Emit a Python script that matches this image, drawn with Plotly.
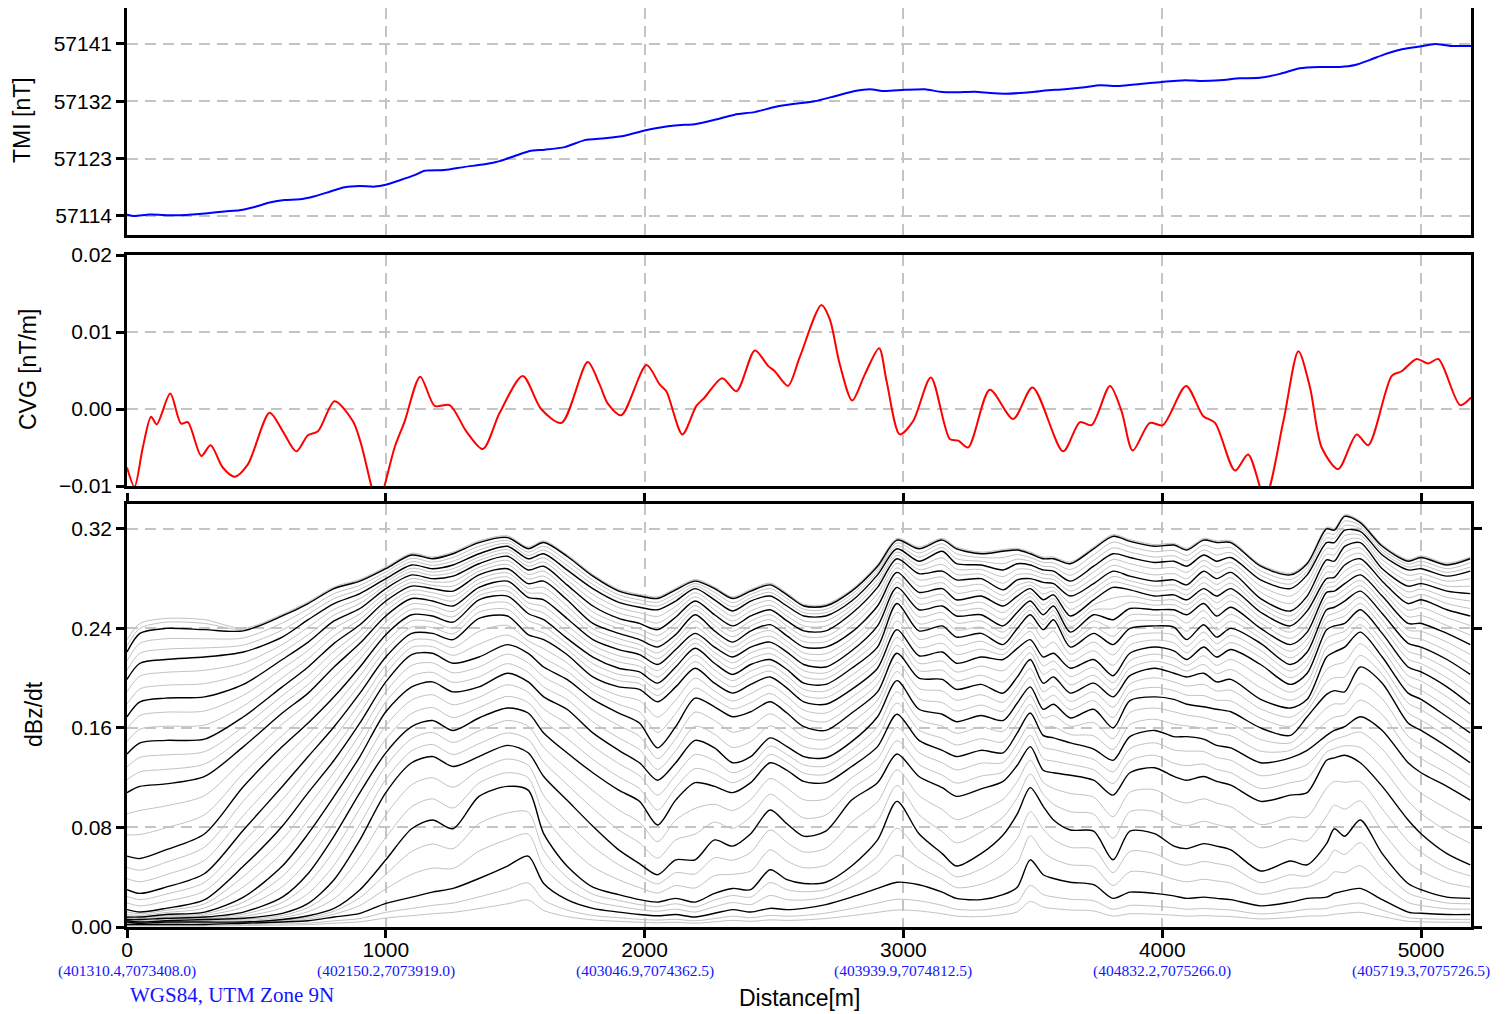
import plotly.graph_objects as go

# ---------------- TMI (top panel) ----------------
tmi_dist = [0, 29, 87, 184, 280, 377, 435, 493, 551, 609, 667, 725, 783, 841, 899, 957, 1000,
            1054, 1111, 1150, 1227, 1305, 1382, 1440, 1498, 1556, 1614, 1691, 1768, 1846, 1923,
            2000, 2078, 2155, 2194, 2271, 2348, 2425, 2503, 2580, 2657, 2735, 2812, 2870, 2928,
            3005, 3083, 3141, 3199, 3276, 3334, 3392, 3450, 3508, 3547, 3624, 3701, 3759, 3836,
            3914, 3991, 4087, 4145, 4223, 4300, 4377, 4455, 4532, 4609, 4687, 4745, 4803, 4861,
            4919, 4996, 5054, 5112, 5193]
tmi_val = [57114.2, 57114.0, 57114.2, 57114.1, 57114.3, 57114.7, 57114.9, 57115.4, 57116.1,
           57116.5, 57116.6, 57117.1, 57117.8, 57118.5, 57118.7, 57118.6, 57118.9, 57119.6,
           57120.4, 57121.1, 57121.2, 57121.7, 57122.1, 57122.6, 57123.4, 57124.2, 57124.4,
           57124.8, 57125.9, 57126.2, 57126.6, 57127.4, 57128.0, 57128.3, 57128.4, 57129.1,
           57129.9, 57130.3, 57131.1, 57131.6, 57132.0, 57132.8, 57133.6, 57133.9, 57133.6,
           57133.8, 57133.9, 57133.5, 57133.4, 57133.5, 57133.3, 57133.2, 57133.3, 57133.5,
           57133.7, 57133.9, 57134.2, 57134.5, 57134.4, 57134.7, 57135.0, 57135.3, 57135.2,
           57135.3, 57135.6, 57135.7, 57136.3, 57137.2, 57137.4, 57137.4, 57137.7, 57138.5,
           57139.4, 57140.1, 57140.6, 57141.0, 57140.7, 57140.7]

# ---------------- CVG (middle panel) ----------------
cvg_dist = [0, 29, 61, 93, 115, 167, 209, 235, 287, 323, 370, 416, 467, 551, 602, 654, 699, 738,
            802, 873, 905, 944, 970, 995, 1034, 1073, 1133, 1189, 1247, 1311, 1375, 1440, 1529,
            1600, 1679, 1780, 1826, 1858, 1910, 2007, 2058, 2084, 2146, 2200, 2232, 2300, 2355,
            2426, 2477, 2503, 2554, 2599, 2683, 2715, 2754, 2802, 2851, 2906, 2935, 2986, 3037,
            3106, 3179, 3212, 3250, 3334, 3424, 3499, 3617, 3682, 3727, 3798, 3843, 3886, 3952,
            4002, 4092, 4158, 4204, 4281, 4332, 4397, 4468, 4526, 4571, 4616, 4680, 4751, 4796,
            4887, 4925, 4983, 5028, 5067, 5151, 5193]
cvg_val = [-0.0076, -0.0101, -0.0050, -0.0010, -0.0020, 0.0020, -0.0019, -0.0017, -0.0061,
           -0.0047, -0.0076, -0.0088, -0.0072, -0.0005, -0.0029, -0.0055, -0.0034, -0.0029,
           0.0010, -0.0016, -0.0046, -0.0100, -0.0130, -0.0100, -0.0050, -0.0016, 0.0042,
           0.0004, 0.0005, -0.0029, -0.0052, -0.0005, 0.0043, 0.0000, -0.0018, 0.0061, 0.0032,
           0.0007, -0.0008, 0.0057, 0.0032, 0.0023, -0.0033, 0.0004, 0.0015, 0.0040, 0.0023,
           0.0076, 0.0056, 0.0049, 0.0030, 0.0067, 0.0135, 0.0117, 0.0058, 0.0011, 0.0045,
           0.0079, 0.0036, -0.0033, -0.0016, 0.0041, -0.0039, -0.0041, -0.0050, 0.0025,
           -0.0013, 0.0028, -0.0055, -0.0017, -0.0021, 0.0030, -0.0003, -0.0054, -0.0018,
           -0.0021, 0.0030, -0.0009, -0.0018, -0.0080, -0.0059, -0.0115, -0.0016, 0.0075,
           0.0028, -0.0050, -0.0078, -0.0033, -0.0047, 0.0043, 0.0049, 0.0065, 0.0059, 0.0065,
           0.0005, 0.0015]

# ---------------- dBz/dt (bottom panel) ----------------
dbdt_dist = [0, 50, 150, 300, 450, 600, 700, 800, 900,
             1000, 1100, 1180, 1260, 1360, 1470, 1550, 1610, 1700, 1800, 1900, 1980,
             2050, 2120, 2195, 2270, 2340, 2410, 2485, 2550, 2615, 2700, 2800, 2900, 2975,
             3060, 3150, 3205, 3300, 3385, 3440, 3490, 3540, 3580, 3645, 3735, 3810, 3875, 3970, 4045,
             4095, 4160, 4210, 4265, 4380, 4495, 4560, 4635, 4665,
             4705, 4765, 4850, 4950, 5000, 5100, 5190]

# highlighted (black) channels, top to bottom
ch03 = [0.221, 0.236, 0.240, 0.239, 0.238, 0.250, 0.260, 0.272, 0.278,
        0.288, 0.299, 0.296, 0.300, 0.309, 0.313, 0.304, 0.309, 0.298, 0.282, 0.270, 0.266,
        0.264, 0.271, 0.278, 0.272, 0.264, 0.270, 0.275, 0.267, 0.258, 0.258, 0.270, 0.290, 0.311,
        0.304, 0.311, 0.304, 0.300, 0.302, 0.303, 0.300, 0.296, 0.296, 0.292, 0.304, 0.314, 0.310, 0.306, 0.307,
        0.303, 0.311, 0.309, 0.309, 0.290, 0.283, 0.292, 0.320, 0.319,
        0.330, 0.325, 0.306, 0.294, 0.297, 0.291, 0.296]
ch06 = [0.199, 0.212, 0.215, 0.217, 0.221, 0.233, 0.247, 0.260, 0.268,
        0.280, 0.291, 0.288, 0.291, 0.300, 0.306, 0.296, 0.300, 0.287, 0.272, 0.261, 0.257,
        0.255, 0.262, 0.272, 0.263, 0.254, 0.262, 0.266, 0.258, 0.250, 0.250, 0.262, 0.283, 0.304,
        0.294, 0.302, 0.292, 0.291, 0.287, 0.292, 0.291, 0.287, 0.286, 0.278, 0.290, 0.300, 0.297, 0.293, 0.294,
        0.290, 0.299, 0.294, 0.297, 0.279, 0.272, 0.283, 0.309, 0.309,
        0.319, 0.318, 0.299, 0.287, 0.288, 0.282, 0.286]
ch09 = [0.169, 0.181, 0.184, 0.185, 0.195, 0.215, 0.229, 0.246, 0.256,
        0.272, 0.283, 0.280, 0.282, 0.292, 0.298, 0.287, 0.290, 0.275, 0.258, 0.248, 0.244,
        0.239, 0.249, 0.262, 0.251, 0.242, 0.250, 0.255, 0.246, 0.238, 0.238, 0.252, 0.273, 0.296,
        0.284, 0.286, 0.279, 0.280, 0.271, 0.279, 0.280, 0.277, 0.276, 0.266, 0.276, 0.286, 0.282, 0.278, 0.279,
        0.275, 0.286, 0.280, 0.285, 0.264, 0.254, 0.266, 0.295, 0.294,
        0.306, 0.309, 0.288, 0.274, 0.276, 0.270, 0.268]
ch12 = [0.139, 0.148, 0.150, 0.151, 0.169, 0.193, 0.209, 0.228, 0.243,
        0.262, 0.274, 0.272, 0.270, 0.283, 0.288, 0.276, 0.278, 0.263, 0.244, 0.236, 0.231,
        0.225, 0.235, 0.251, 0.238, 0.229, 0.238, 0.243, 0.234, 0.225, 0.225, 0.237, 0.258, 0.285,
        0.269, 0.272, 0.263, 0.266, 0.258, 0.266, 0.272, 0.263, 0.267, 0.250, 0.263, 0.273, 0.271, 0.266, 0.267,
        0.263, 0.272, 0.266, 0.272, 0.253, 0.242, 0.254, 0.280, 0.281,
        0.291, 0.296, 0.278, 0.260, 0.263, 0.255, 0.250]
ch15 = [0.108, 0.113, 0.115, 0.121, 0.145, 0.172, 0.188, 0.209, 0.228,
        0.250, 0.264, 0.262, 0.258, 0.273, 0.278, 0.265, 0.263, 0.248, 0.231, 0.223, 0.219,
        0.211, 0.223, 0.236, 0.225, 0.217, 0.225, 0.229, 0.221, 0.211, 0.209, 0.222, 0.242, 0.273,
        0.255, 0.258, 0.250, 0.251, 0.242, 0.253, 0.262, 0.251, 0.258, 0.237, 0.251, 0.247, 0.256, 0.255, 0.255,
        0.251, 0.260, 0.250, 0.257, 0.240, 0.227, 0.237, 0.269, 0.270,
        0.276, 0.283, 0.266, 0.244, 0.244, 0.236, 0.227]
ch18 = [0.057, 0.055, 0.062, 0.075, 0.113, 0.145, 0.164, 0.185, 0.209,
        0.235, 0.251, 0.250, 0.245, 0.263, 0.266, 0.252, 0.247, 0.232, 0.217, 0.208, 0.205,
        0.196, 0.209, 0.224, 0.212, 0.203, 0.211, 0.215, 0.207, 0.196, 0.195, 0.208, 0.225, 0.260,
        0.238, 0.242, 0.233, 0.236, 0.227, 0.240, 0.251, 0.239, 0.247, 0.225, 0.236, 0.227, 0.240, 0.242, 0.241,
        0.231, 0.243, 0.233, 0.240, 0.228, 0.211, 0.221, 0.255, 0.257,
        0.262, 0.270, 0.252, 0.228, 0.225, 0.215, 0.203]
ch21 = [0.030, 0.027, 0.032, 0.043, 0.078, 0.113, 0.137, 0.161, 0.188,
        0.217, 0.236, 0.236, 0.231, 0.248, 0.250, 0.235, 0.231, 0.219, 0.201, 0.193, 0.191,
        0.181, 0.193, 0.208, 0.196, 0.188, 0.195, 0.201, 0.192, 0.181, 0.179, 0.191, 0.208, 0.239,
        0.218, 0.221, 0.212, 0.217, 0.215, 0.224, 0.231, 0.217, 0.220, 0.208, 0.215, 0.202, 0.220, 0.225, 0.222,
        0.215, 0.225, 0.217, 0.223, 0.211, 0.195, 0.204, 0.239, 0.242,
        0.244, 0.255, 0.236, 0.209, 0.205, 0.193, 0.179]
ch24 = [0.014, 0.012, 0.015, 0.022, 0.049, 0.081, 0.108, 0.134, 0.164,
        0.197, 0.219, 0.220, 0.212, 0.217, 0.227, 0.220, 0.209, 0.199, 0.183, 0.172, 0.164,
        0.144, 0.161, 0.184, 0.177, 0.169, 0.173, 0.181, 0.172, 0.161, 0.158, 0.172, 0.189, 0.220,
        0.200, 0.199, 0.191, 0.195, 0.188, 0.201, 0.215, 0.196, 0.201, 0.188, 0.196, 0.185, 0.202, 0.208, 0.204,
        0.201, 0.204, 0.197, 0.199, 0.183, 0.176, 0.183, 0.217, 0.221,
        0.225, 0.237, 0.217, 0.188, 0.183, 0.169, 0.156]
ch27 = [0.008, 0.008, 0.010, 0.012, 0.024, 0.049, 0.075, 0.105, 0.137,
        0.173, 0.193, 0.197, 0.189, 0.193, 0.204, 0.197, 0.185, 0.175, 0.156, 0.142, 0.132,
        0.118, 0.132, 0.150, 0.144, 0.132, 0.137, 0.152, 0.145, 0.137, 0.136, 0.149, 0.169, 0.198,
        0.175, 0.171, 0.165, 0.170, 0.166, 0.180, 0.193, 0.175, 0.179, 0.168, 0.175, 0.160, 0.182, 0.185, 0.183,
        0.179, 0.177, 0.175, 0.173, 0.160, 0.154, 0.169, 0.187, 0.190,
        0.189, 0.209, 0.196, 0.164, 0.158, 0.145, 0.132]
ch30 = [0.006, 0.006, 0.007, 0.008, 0.012, 0.024, 0.043, 0.073, 0.108,
        0.140, 0.161, 0.166, 0.158, 0.168, 0.176, 0.172, 0.156, 0.140, 0.124, 0.110, 0.101,
        0.082, 0.102, 0.116, 0.113, 0.108, 0.116, 0.132, 0.126, 0.117, 0.116, 0.129, 0.145, 0.171,
        0.150, 0.142, 0.137, 0.142, 0.140, 0.156, 0.172, 0.154, 0.152, 0.148, 0.143, 0.134, 0.153, 0.158, 0.153,
        0.153, 0.151, 0.146, 0.144, 0.132, 0.136, 0.142, 0.154, 0.158,
        0.161, 0.169, 0.158, 0.132, 0.124, 0.113, 0.102]
ch33 = [0.005, 0.004, 0.005, 0.006, 0.007, 0.011, 0.019, 0.038, 0.070,
        0.108, 0.132, 0.137, 0.129, 0.137, 0.146, 0.140, 0.121, 0.102, 0.081, 0.062, 0.051,
        0.042, 0.054, 0.054, 0.070, 0.065, 0.075, 0.094, 0.083, 0.073, 0.077, 0.102, 0.116, 0.139,
        0.121, 0.112, 0.105, 0.111, 0.117, 0.130, 0.145, 0.126, 0.124, 0.122, 0.118, 0.106, 0.124, 0.128, 0.121,
        0.118, 0.121, 0.117, 0.114, 0.101, 0.106, 0.108, 0.134, 0.136,
        0.138, 0.132, 0.113, 0.086, 0.075, 0.059, 0.050]
ch36 = [0.004, 0.003, 0.004, 0.004, 0.004, 0.006, 0.009, 0.015, 0.030,
        0.054, 0.079, 0.086, 0.079, 0.105, 0.113, 0.110, 0.075, 0.049, 0.032, 0.026, 0.022,
        0.020, 0.023, 0.020, 0.027, 0.031, 0.030, 0.046, 0.038, 0.035, 0.036, 0.049, 0.070, 0.101,
        0.075, 0.059, 0.049, 0.059, 0.074, 0.091, 0.112, 0.097, 0.086, 0.078, 0.077, 0.054, 0.077, 0.075, 0.065,
        0.063, 0.067, 0.065, 0.062, 0.045, 0.053, 0.050, 0.067, 0.079,
        0.073, 0.086, 0.059, 0.035, 0.030, 0.024, 0.023]
ch39 = [0.002, 0.002, 0.002, 0.002, 0.003, 0.004, 0.005, 0.008, 0.011,
        0.019, 0.024, 0.028, 0.031, 0.039, 0.049, 0.057, 0.035, 0.022, 0.015, 0.012, 0.010,
        0.009, 0.010, 0.008, 0.011, 0.014, 0.012, 0.015, 0.014, 0.015, 0.018, 0.024, 0.031, 0.036,
        0.034, 0.028, 0.023, 0.022, 0.026, 0.032, 0.054, 0.042, 0.039, 0.036, 0.034, 0.023, 0.028, 0.027, 0.025,
        0.023, 0.024, 0.023, 0.022, 0.017, 0.020, 0.023, 0.024, 0.027,
        0.029, 0.031, 0.022, 0.012, 0.011, 0.010, 0.010]

# early gray channels: separated from ch03 only at the start of the line
ch01_start = [0.231, 0.244, 0.248, 0.247, 0.240]
ch02_start = [0.226, 0.240, 0.245, 0.244, 0.239]

x_ticks = [0, 1000, 2000, 3000, 4000, 5000]
utm_labels = ["(401310.4,7073408.0)", "(402150.2,7073919.0)", "(403046.9,7074362.5)",
              "(403939.9,7074812.5)", "(404832.2,7075266.0)", "(405719.3,7075726.5)"]
tmi_ticks = [57114, 57123, 57132, 57141]
cvg_ticks = [-0.01, 0.0, 0.01, 0.02]
dbdt_ticks = [0.0, 0.08, 0.16, 0.24, 0.32]

blacks = [ch03, ch06, ch09, ch12, ch15, ch18, ch21, ch24, ch27, ch30, ch33, ch36, ch39]
for b in blacks:
    assert len(b) == len(dbdt_dist), len(b)

# gray channels lying between the highlighted ones
grays = []
n_start = len(ch01_start)
grays.append(ch01_start + [v + 0.0014 for v in ch03[n_start:]])
grays.append(ch02_start + [v + 0.0007 for v in ch03[n_start:]])
for up, lo in zip(blacks[:-1], blacks[1:]):
    for f in (1 / 3, 2 / 3):
        grays.append([u - (u - l) * f for u, l in zip(up, lo)])
grays.append([v * 0.62 for v in ch39])
grays.append([v * 0.38 for v in ch39])

# ---------------- figure geometry ----------------
# the page shows the figure 8 px right of / below the window corner
OFF = 8
W, H = 1505, 1014
ML, MR, MT, MB = 127 - OFF, 42, 0, 95
PW = W - ML - MR
PH = H - MT - MB


def pyf(sy):
    """screen y (px) -> paper y"""
    return (H - MB - (sy - OFF)) / PH


def pxf(sx):
    """screen x (px) -> paper x"""
    return (sx - OFF - ML) / PW


fig = go.Figure()
fig.add_trace(go.Scatter(x=tmi_dist, y=tmi_val, mode="lines",
                         line=dict(color="#0000ff", width=2, shape="spline", smoothing=0.6),
                         xaxis="x", yaxis="y", showlegend=False))
fig.add_trace(go.Scatter(x=cvg_dist, y=cvg_val, mode="lines",
                         line=dict(color="#ff0000", width=2, shape="spline", smoothing=0.8),
                         xaxis="x2", yaxis="y2", showlegend=False))
for g in grays:
    fig.add_trace(go.Scatter(x=dbdt_dist, y=g, mode="lines",
                             line=dict(color="#c2c2c2", width=1, shape="spline", smoothing=0.8),
                             xaxis="x3", yaxis="y3", showlegend=False))
for b in blacks:
    fig.add_trace(go.Scatter(x=dbdt_dist, y=b, mode="lines",
                             line=dict(color="black", width=1.4, shape="spline", smoothing=0.8),
                             xaxis="x3", yaxis="y3", showlegend=False))

font_sans = "Liberation Sans, Arial, Helvetica, sans-serif"
font_serif = "Liberation Serif, Times New Roman, serif"
grid = dict(showgrid=True, gridcolor="#c4c4c4", gridwidth=2, griddash="11px,7px")
frame = dict(showline=True, linecolor="black", linewidth=2.5, zeroline=False, automargin=False)
tickfont = dict(family=font_sans, size=21, color="black")
yt = dict(ticks="outside", ticklen=8, tickwidth=2.5, tickcolor="black", tickfont=tickfont)

xbase = dict(range=[0, 5193], tickvals=x_ticks, **grid, **frame)
fig.update_layout(
    width=W, height=H,
    margin=dict(l=ML, r=MR, t=MT, b=MB, pad=0),
    paper_bgcolor="white", plot_bgcolor="white",
    xaxis=dict(domain=[0, 1], anchor="y", showticklabels=False, ticks="", mirror=True, **xbase),
    xaxis2=dict(domain=[0, 1], anchor="y2", showticklabels=False, ticks="", mirror=True, **xbase),
    xaxis3=dict(domain=[0, 1], anchor="y3", ticks="outside", ticklen=8, tickwidth=2.5, tickcolor="black",
                mirror="ticks", tickfont=tickfont, ticklabelstandoff=-6, **xbase),
    yaxis=dict(domain=[pyf(235), 1], anchor="x", range=[57111.0, 57146.65], tickvals=tmi_ticks,
               tickformat="d", mirror=True, **yt, **grid, **frame),
    yaxis2=dict(domain=[pyf(486), pyf(255)], anchor="x2", range=[-0.01, 0.02], tickvals=cvg_ticks,
                tickformat=".2f", mirror=True, **yt, **grid, **frame),
    yaxis3=dict(domain=[0, pyf(504)], anchor="x3", range=[0, 0.34], tickvals=dbdt_ticks,
                tickformat=".2f", mirror="ticks", **yt, **grid, **frame),
)

ann = []
title_font = dict(family=font_sans, size=23, color="black")
ann.append(dict(text="TMI [nT]", x=pxf(22), y=pyf(120), xref="paper", yref="paper", textangle=-90,
                showarrow=False, font=title_font, xanchor="center", yanchor="middle"))
ann.append(dict(text="CVG [nT/m]", x=pxf(28), y=pyf(370), xref="paper", yref="paper", textangle=-90,
                showarrow=False, font=title_font, xanchor="center", yanchor="middle"))
ann.append(dict(text="dBz/dt", x=pxf(34), y=pyf(714), xref="paper", yref="paper", textangle=-90,
                showarrow=False, font=title_font, xanchor="center", yanchor="middle"))
ann.append(dict(text="Distance[m]", x=pxf(799), y=pyf(998), xref="paper", yref="paper",
                showarrow=False, font=title_font, xanchor="center", yanchor="middle"))
for xv, lab in zip(x_ticks, utm_labels):
    ann.append(dict(text=lab, x=xv, y=pyf(971), xref="x3", yref="paper", showarrow=False,
                    font=dict(family=font_serif, size=15.5, color="#1414ff"), xanchor="center", yanchor="middle"))
ann.append(dict(text="WGS84, UTM Zone 9N", x=pxf(128), y=pyf(995), xref="paper", yref="paper",
                showarrow=False, font=dict(family=font_serif, size=21, color="#1414ff"),
                xanchor="left", yanchor="middle"))
fig.update_layout(annotations=ann)

fig.write_html("out.html")
